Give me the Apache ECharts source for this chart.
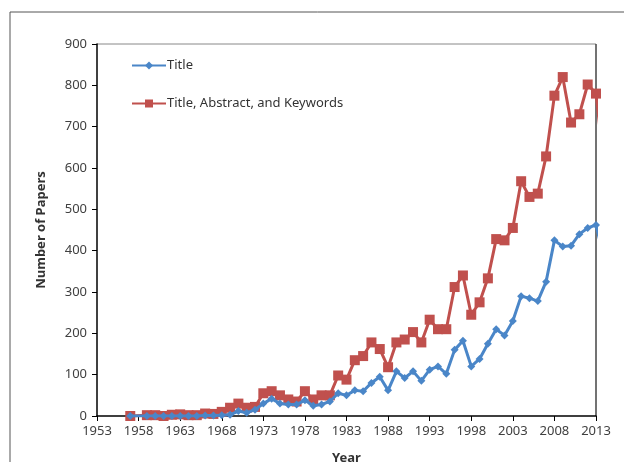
<!DOCTYPE html>
<html>
<head>
<meta charset="UTF-8">
<script src="https://cdn.jsdelivr.net/npm/echarts@6/dist/echarts.min.js"></script>
<title>Number of Papers per Year</title>
<style type="text/css">
body{
	padding:0;
	margin:0;
	background:#fff;
}
#main{
	width:624px;
	height:462px;
}
</style>
</head>
<body>
<div id="main"></div>
<script type="text/javascript">
// years, 1958 has no point; 2014 only shows as the clipped drop at the right edge
var years = [1957,1959,1960,1961,1962,1963,1964,1965,1966,1967,1968,1969,1970,1971,1972,1973,1974,1975,1976,1977,1978,1979,1980,1981,1982,1983,1984,1985,1986,1987,1988,1989,1990,1991,1992,1993,1994,1995,1996,1997,1998,1999,2000,2001,2002,2003,2004,2005,2006,2007,2008,2009,2010,2011,2012,2013,2014];
var titleOnly = [0,0,0,0,0,0,0,0,1,1,2,3,12,8,15,30,42,30,28,28,38,25,28,35,55,50,62,60,80,95,62,108,92,108,85,112,120,102,160,182,120,138,175,210,195,230,290,285,278,325,425,410,412,440,455,462,380];
var titleAbsKey = [0,2,2,0,3,4,2,2,6,5,10,20,30,20,22,55,60,50,40,35,60,40,50,50,98,88,135,145,178,162,118,178,185,203,178,233,210,210,312,340,245,275,333,428,425,455,568,530,538,628,775,820,710,730,802,780,600];
var seriesNames = ['Title','Title, Abstract, and Keywords'];

function pairs(vals){
	var out = [];
	for(var i = 0; i < years.length; i++){
		out.push([years[i], vals[i]]);
	}
	return out;
}

var myChart = echarts.init(document.getElementById('main'));

var font = 'Noto Sans';

var option = {
	animation:false,
	backgroundColor:'#fff',
	textStyle:{fontFamily:font},
	graphic:[
		{
			type:'rect',
			shape:{x:10,y:12,width:700,height:500},
			style:{fill:'none',stroke:'#555',lineWidth:1}
		},
		{
			type:'line',
			shape:{x1:97,y1:44,x2:596,y2:44},
			style:{stroke:'#888',lineWidth:1}
		},
		{
			type:'line',
			shape:{x1:596,y1:44,x2:596,y2:416},
			style:{stroke:'#444',lineWidth:1.5}
		}
	],
	legend:{
		orient:'vertical',
		left:126,
		top:54,
		itemGap:25,
		itemWidth:34,
		itemHeight:10,
		data:seriesNames,
		textStyle:{fontFamily:font,fontSize:13,color:'#333',padding:[0,0,0,-4]}
	},
	grid:{left:97,top:44,width:499,height:372,outerBoundsMode:'none',containLabel:false},
	xAxis:{
		type:'value',
		min:1953,
		max:2013,
		interval:5,
		name:'Year',
		nameLocation:'middle',
		nameGap:36,
		nameTextStyle:{fontFamily:font,fontSize:13,fontWeight:'bold',color:'#333'},
		axisLine:{lineStyle:{color:'#000',width:1.5}},
		axisTick:{inside:false,length:5,lineStyle:{color:'#000'}},
		axisLabel:{
			fontFamily:font,fontSize:13,color:'#404040',margin:9,showMaxLabel:true,
			formatter:function(v){ return String(v); }
		},
		splitLine:{show:false}
	},
	yAxis:{
		type:'value',
		min:0,
		max:900,
		interval:100,
		name:'Number of Papers',
		nameLocation:'middle',
		nameGap:49,
		nameRotate:90,
		nameTextStyle:{fontFamily:font,fontSize:13,fontWeight:'bold',color:'#333'},
		axisLine:{show:true,lineStyle:{color:'#000',width:1.5}},
		axisTick:{show:true,inside:false,length:5,lineStyle:{color:'#000'}},
		axisLabel:{fontFamily:font,fontSize:13,color:'#404040',margin:10},
		splitLine:{show:false}
	},
	series:[
		{
			name:seriesNames[1],
			type:'line',
			data:pairs(titleAbsKey),
			symbol:'rect',
			symbolSize:10,
			clip:true,
			z:2,
			lineStyle:{color:'#c0504d',width:3},
			itemStyle:{color:'#c0504d'}
		},
		{
			name:seriesNames[0],
			type:'line',
			data:pairs(titleOnly),
			symbol:'diamond',
			symbolSize:8,
			clip:true,
			z:3,
			lineStyle:{color:'#4a86c8',width:3},
			itemStyle:{color:'#4a86c8'}
		}
	]
};

myChart.setOption(option);
</script>
</body>
</html>
